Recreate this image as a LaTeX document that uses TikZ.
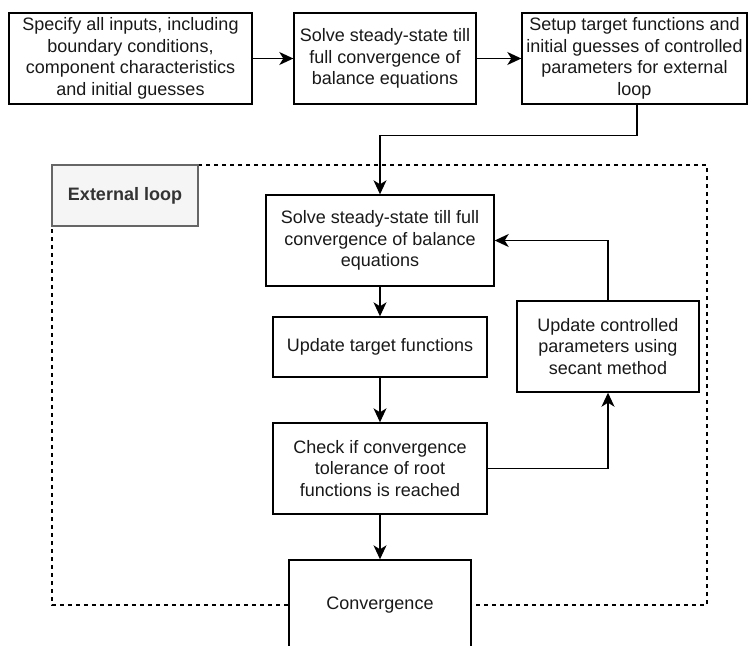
\documentclass[tikz,border=0pt]{standalone}
\usepackage{fontspec}
\setmainfont{Liberation Sans}
\usetikzlibrary{arrows.meta}
\begin{document}
\begin{tikzpicture}[x=1pt,y=-1pt,
    box/.style={draw, line width=1.4pt, fill=white, align=center, inner sep=0pt,
      font=\fontsize{18}{21.6}\selectfont, text=black!90},
    arr/.style={line width=1.4pt, -{Stealth[length=14pt,width=13pt,inset=4pt]}}]
  \useasboundingbox (0,0) rectangle (748,646);
  % external loop frame
  \draw[line width=1.4pt, dash pattern=on 4pt off 4pt] (52,165) rectangle (707,605);
  \node[draw=black!60, fill=black!4, line width=1.4pt, minimum width=146pt, minimum height=61pt,
    inner sep=0pt, font=\fontsize{18}{21.6}\selectfont\bfseries, text=black!80] (extloop) at (125,195.5) {External loop};
  % top row
  \node[box, minimum width=243pt, minimum height=91pt] (specify) at (130.5,58.5)
    {Specify all inputs, including\\boundary conditions,\\component characteristics\\and initial guesses};
  \node[box, minimum width=182pt, minimum height=91pt] (solve) at (385,58.5)
    {Solve steady-state till\\full convergence of\\balance equations};
  \node[box, minimum width=225pt, minimum height=91pt] (setup) at (634.5,58.5)
    {Setup target functions and\\initial guesses of controlled\\parameters for external\\loop};
  % inside the loop
  \node[box, minimum width=228pt, minimum height=91pt] (innersolve) at (380,240.5)
    {Solve steady-state till full\\convergence of balance\\equations};
  \node[box, minimum width=214pt, minimum height=60pt] (target) at (380,347)
    {Update target functions};
  \node[box, minimum width=214pt, minimum height=91pt] (check) at (380,468.5)
    {Check if convergence\\tolerance of root\\functions is reached};
  \node[box, minimum width=182pt, minimum height=91pt] (secant) at (608,346.5)
    {Update controlled\\parameters using\\secant method};
  \node[box, minimum width=182pt, minimum height=90pt] (conv) at (380,605)
    {Convergence};
  % connectors
  \draw[arr] (setup.south) ++(2.5,0) coordinate (setupout) -- ++(0,31) -| (innersolve.north);
  \draw[arr] (specify) -- (solve);
  \draw[arr] (solve) -- (setup);
  \draw[arr] (innersolve) -- (target);
  \draw[arr] (target) -- (check);
  \draw[arr] (check) -| (secant);
  \draw[arr] (secant) |- (innersolve);
  \draw[arr] (check) -- (conv);
\end{tikzpicture}
\end{document}
